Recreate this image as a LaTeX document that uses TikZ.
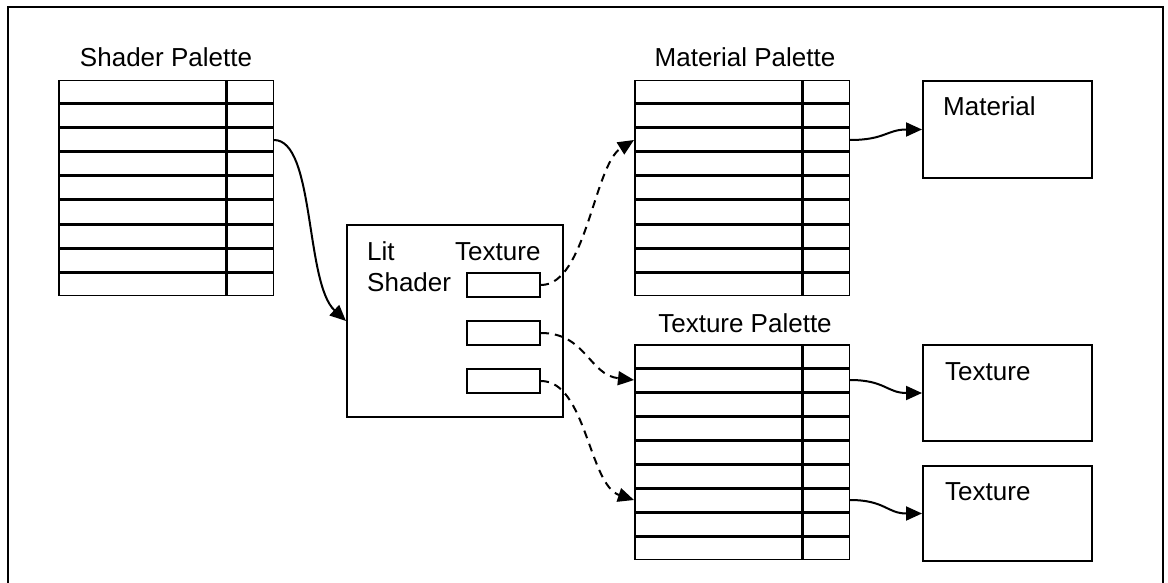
\documentclass[tikz,border=0pt]{standalone}
\usepackage{fontspec}
\setmainfont{Liberation Sans}
\usetikzlibrary{arrows.meta, positioning}

\tikzset{
  cellw/.style={draw, line width=1.5pt, minimum width=166.5pt, minimum height=22.5pt, inner sep=0pt},
  celln/.style={cellw, minimum width=46.5pt},
  box/.style={draw, line width=2pt, inner sep=0pt, anchor=north west},
  lbl/.style={font=\fontsize{26}{31}\selectfont, inner sep=0pt},
  link/.style={line width=2pt, -{Triangle[length=16pt, width=14pt]}},
  dlink/.style={link, dash pattern=on 8pt off 6pt},
}

\begin{document}
\begin{tikzpicture}[x=1pt, y=-1pt]
  \useasboundingbox (0,0) rectangle (1168,583);
  % frame
  \draw[line width=2.5pt] (8,590) -- (8,7) -- (1163,7) -- (1163,590);

  % Shader palette
  \node[lbl, anchor=base] (sp-title) at (166,67) {Shader Palette};
  \node[cellw, anchor=north west] (sp-w1) at (58,80) {};
  \node[celln, right=0pt of sp-w1] (sp-n1) {};
  \foreach \i in {2,...,9} {
    \pgfmathtruncatemacro{\j}{\i-1}
    \node[cellw, below=0pt of sp-w\j] (sp-w\i) {};
    \node[celln, right=0pt of sp-w\i] (sp-n\i) {};
  }

  % Material palette
  \node[lbl, anchor=base] (mp-title) at (745,67) {Material Palette};
  \node[cellw, anchor=north west] (mp-w1) at (634,80) {};
  \node[celln, right=0pt of mp-w1] (mp-n1) {};
  \foreach \i in {2,...,9} {
    \pgfmathtruncatemacro{\j}{\i-1}
    \node[cellw, below=0pt of mp-w\j] (mp-w\i) {};
    \node[celln, right=0pt of mp-w\i] (mp-n\i) {};
  }

  % Texture palette
  \node[lbl, anchor=base] (tp-title) at (745,332) {Texture Palette};
  \node[cellw, anchor=north west] (tp-w1) at (634,344) {};
  \node[celln, right=0pt of tp-w1] (tp-n1) {};
  \foreach \i in {2,...,9} {
    \pgfmathtruncatemacro{\j}{\i-1}
    \node[cellw, below=0pt of tp-w\j] (tp-w\i) {};
    \node[celln, right=0pt of tp-w\i] (tp-n\i) {};
  }

  % Lit shader
  \node[box, minimum width=216pt, minimum height=192pt] (lit) at (346,224) {};
  \node[lbl, anchor=base west] (lit-word) at (367,260) {Lit};
  \node[lbl, anchor=base west] (shader-word) at (367,291) {Shader};
  \node[lbl, anchor=base west] (texture-word) at (455,260) {Texture};
  \foreach \i/\y in {1/272, 2/320, 3/368}
    \node[box, minimum width=73pt, minimum height=24pt] (slot\i) at (466,\y) {};

  % Material and textures
  \node[box, minimum width=169pt, minimum height=97pt] (mat) at (922,80) {};
  \node[lbl, anchor=base west] (mat-text) at (943,116) {Material};
  \node[box, minimum width=169pt, minimum height=96pt] (tex1) at (922,344) {};
  \node[lbl, anchor=base west] (tex1-text) at (945,380) {Texture};
  \node[box, minimum width=169pt, minimum height=95pt] (tex2) at (922,465) {};
  \node[lbl, anchor=base west] (tex2-text) at (945,500) {Texture};

  % links
  \draw[link] (sp-n3.east) .. controls +(41,0) and +(-41,-38) .. (lit.west);
  \draw[dlink] (slot1.east) .. controls +(45,0) and +(-40,25) .. (mp-w3.west);
  \draw[dlink] (slot2.east) .. controls +(45,0) and +(-45,-5) .. (tp-w2.west);
  \draw[dlink] (slot3.east) .. controls +(45,0) and +(-45,-15) .. (tp-w7.west);
  \draw[link] (mp-n3.east) .. controls +(35,0) and +(-35,0) .. (mat.west);
  \draw[link] (tp-n2.east) .. controls +(35,0) and +(-35,0) .. (tex1.west);
  \draw[link] (tp-n7.east) .. controls +(35,0) and +(-35,0) .. (tex2.west);
\end{tikzpicture}
\end{document}
